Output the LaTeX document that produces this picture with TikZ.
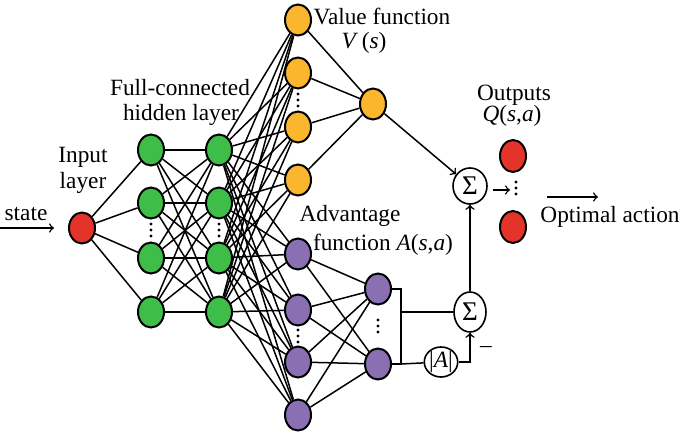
\documentclass[tikz,border=0pt]{standalone}
\usepackage{fontspec}
\setmainfont{Liberation Serif}
\usetikzlibrary{positioning,shapes.geometric}

\definecolor{inred}{RGB}{228,52,42}
\definecolor{hidgreen}{RGB}{62,190,72}
\definecolor{valorange}{RGB}{250,182,44}
\definecolor{advpurple}{RGB}{138,112,178}

\tikzset{
  neuron/.style={ellipse,draw,line width=1pt,minimum width=13pt,
    minimum height=15.5pt,inner sep=0pt},
  redneuron/.style={neuron,fill=inred},
  greenneuron/.style={neuron,fill=hidgreen},
  orangeneuron/.style={neuron,fill=valorange},
  purpleneuron/.style={neuron,fill=advpurple},
  opnode/.style={ellipse,draw,line width=0.8pt,fill=white,inner sep=0pt},
  label/.style={inner sep=0pt},
  wire/.style={line width=0.75pt}
}

% three dots standing over each other
\newcommand{\dotstack}[1]{%
  \foreach \dy in {-6,0,6} \fill (#1) ++(0,\dy) circle (0.85pt);}

\begin{document}
\begin{tikzpicture}[x=0.5pt,y=-0.5pt,>=to,
    font=\fontsize{11.65pt}{14pt}\selectfont]
  \useasboundingbox (0,0) rectangle (685,433);

  % neurons
  \node[redneuron] (in) at (82,228) {};
  \node[greenneuron] (g1_1) at (151,150) {};
  \node[greenneuron] (g1_2) at (151,203) {};
  \node[greenneuron] (g1_3) at (151,258) {};
  \node[greenneuron] (g1_4) at (151,312) {};
  \node[greenneuron] (g2_1) at (219,150) {};
  \node[greenneuron] (g2_2) at (219,203) {};
  \node[greenneuron] (g2_3) at (219,258) {};
  \node[greenneuron] (g2_4) at (219,312) {};
  \node[orangeneuron] (v_1) at (298,20) {};
  \node[orangeneuron] (v_2) at (298,73) {};
  \node[orangeneuron] (v_3) at (298,127) {};
  \node[orangeneuron] (v_4) at (298,180) {};
  \node[orangeneuron] (v_o) at (373,104) {};
  \node[purpleneuron] (a_1) at (298,254) {};
  \node[purpleneuron] (a_2) at (298,310) {};
  \node[purpleneuron] (a_3) at (298,362) {};
  \node[purpleneuron] (a_4) at (298,415) {};
  \node[purpleneuron] (ao_1) at (378,289) {};
  \node[purpleneuron] (ao_2) at (378,364) {};
  \node[redneuron,minimum height=16pt] (q_1) at (513,156) {};
  \node[redneuron,minimum height=16pt] (q_2) at (513,227) {};

  % aggregation
  \node[opnode,minimum width=17pt,minimum height=18pt,
    font=\fontsize{13.5pt}{14pt}\selectfont] (sum_1) at (470,186) {Σ};
  \node[opnode,minimum width=16pt,minimum height=20pt,
    font=\fontsize{13.5pt}{14pt}\selectfont] (sum_2) at (470,312) {Σ};
  \node[opnode,minimum width=16pt,minimum height=15pt] (absA) at (441,362) {|\textit{A}|};

  % vertical dots
  \coordinate (gd_1) at (151,230);
  \coordinate (gd_2) at (219,230);
  \coordinate (vd) at (298,100);
  \coordinate (ad) at (298,336);
  \coordinate (aod) at (378,326);
  \coordinate (qd) at (516,188);
  \dotstack{gd_1} \dotstack{gd_2} \dotstack{vd}
  \dotstack{ad} \dotstack{aod} \dotstack{qd}

  % connections
  \foreach \i in {1,...,4} {
    \draw[wire] (in) -- (g1_\i);
    \draw[wire] (v_\i) -- (v_o);
    \foreach \j in {1,...,4} {
      \draw[wire] (g1_\i) -- (g2_\j);
      \draw[wire] (g2_\i) -- (v_\j);
      \draw[wire] (g2_\i) -- (a_\j);
    }
    \draw[wire] (a_\i) -- (ao_1);
    \draw[wire] (a_\i) -- (ao_2);
  }

  \coordinate (br_t) at (401,289);
  \coordinate (br_b) at (401,364);
  \draw[wire] (ao_1) -- (br_t) -- (br_b) -- (ao_2);
  \draw[wire] (br_t |- sum_2) -- (sum_2);
  \draw[wire] (br_b) -- (absA);
  \draw[wire,->] (absA) -| (sum_2);
  \draw[wire,->] (sum_2) -- (sum_1);
  \draw[wire,->] (v_o) -- (sum_1);
  \coordinate (qa_s) at (493,190);
  \coordinate (qa_e) at (510,190);
  \draw[wire,->] (qa_s) -- (qa_e);

  \coordinate (st) at (0,228);
  \draw[wire,->,shorten >=7pt] (st) -- (in);
  \coordinate (oa_s) at (547,197);
  \coordinate (oa_e) at (598,197);
  \draw[wire,->] (oa_s) -- (oa_e);

  % labels
  \node[label] (lstate) at (26,214) {state};
  \node[label] (lin1) at (83,157) {Input};
  \node[label] (lin2) at (83,183) {layer};
  \node[label] (lhid1) at (180,88) {Full-connected};
  \node[label] (lhid2) at (181,115) {hidden layer};
  \node[label] (lval1) at (382,16) {Value function};
  \node[label] (lval2) at (364,43) {\textit{V}\,(\textit{s})};
  \node[label] (ladv1) at (350,216) {Advantage};
  \node[label] (ladv2) at (383,245) {function \textit{A}(\textit{s},\textit{a})};
  \node[label] (lout1) at (514,95) {Outputs};
  \node[label] (lout2) at (512,116) {\textit{Q}(\textit{s},\textit{a})};
  \node[label] (lopt) at (610,217) {Optimal action};
  \node[label] (lminus) at (486,349) {–};
\end{tikzpicture}
\end{document}
